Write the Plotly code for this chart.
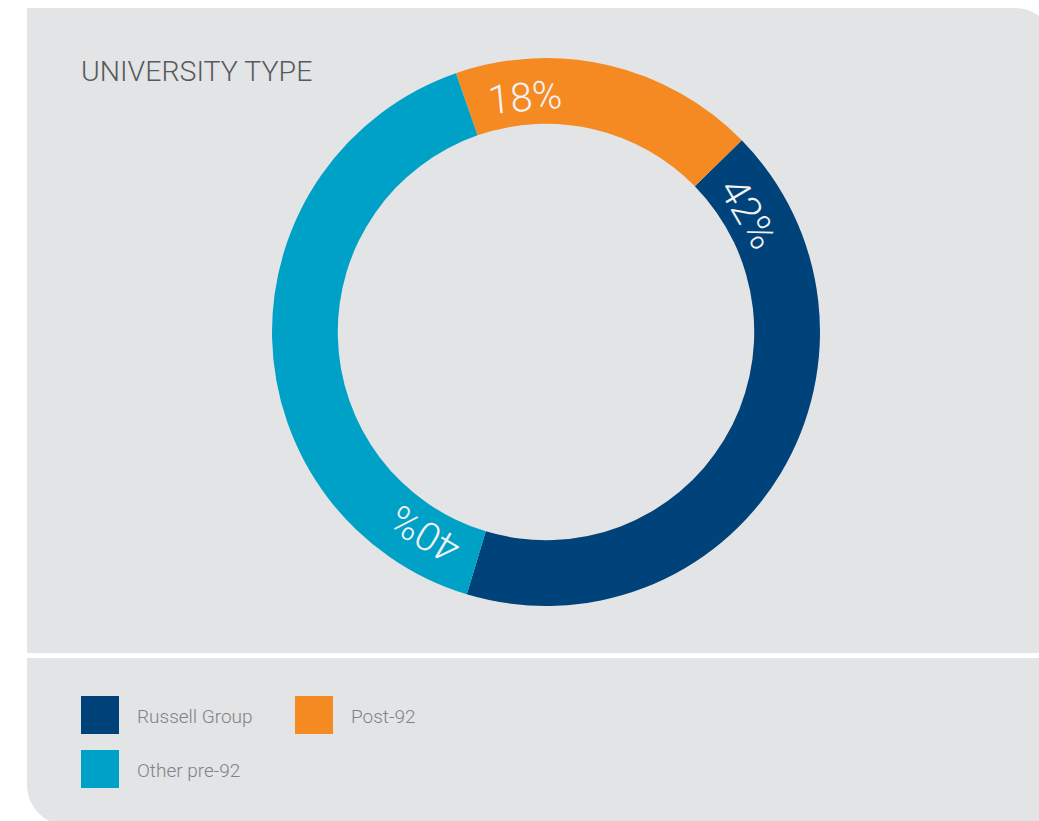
import math
import plotly.graph_objects as go

# ---- data ----
categories = ["Russell Group", "Post-92", "Other pre-92"]
shares = [42, 18, 40]
colors = ["#00427a", "#f58a22", "#00a1c6"]
title_text = "UNIVERSITY TYPE"

# ---- canvas geometry (pixels) ----
W, H = 1039, 821
CX, CY, R_OUT = 546, 332, 274
HOLE = 0.76
START_DEG = -19.2          # clock angle where the ring begins (Post-92 edge)
LABEL_R = 235              # radius for the percentage labels
LABEL_OFFSET = 14          # degrees past each slice's leading edge

BG = "#e3e4e6"


def px(x):
    return x / W


def py(y):
    return 1 - y / H


# ---- panel outline with rounded top-right and bottom-left corners ----
def panel_path(left, top, right, bottom, r):
    k = 0.5523 * r
    pts = [
        f"M {px(left)},{py(top)}",
        f"L {px(right - r)},{py(top)}",
        f"C {px(right - r + k)},{py(top)} {px(right)},{py(top + r - k)} {px(right)},{py(top + r)}",
        f"L {px(right)},{py(bottom)}",
        f"L {px(left + r)},{py(bottom)}",
        f"C {px(left + r - k)},{py(bottom)} {px(left)},{py(bottom - r + k)} {px(left)},{py(bottom - r)}",
        "Z",
    ]
    return " ".join(pts)


shapes = [
    dict(type="path", xref="paper", yref="paper", layer="below",
         path=panel_path(27, 8, 1055, 825, 40),
         fillcolor=BG, line=dict(width=0)),
    # white divider between the chart and the key
    dict(type="rect", xref="paper", yref="paper", layer="below",
         x0=px(27), x1=px(1060), y0=py(658), y1=py(653),
         fillcolor="white", line=dict(width=0)),
]

# ---- donut ----
# Counter-clockwise drawing keeps the data order equal to the key order.
# In that mode the first slice (Russell Group) spans clockwise from `rotation`,
# which is where the Post-92 slice ends.
total = sum(shares)
post_idx = categories.index("Post-92")
rotation = START_DEG + 360 * shares[post_idx] / total

fig = go.Figure(go.Pie(
    labels=categories,
    values=shares,
    marker=dict(colors=colors, line=dict(width=0)),
    hole=HOLE,
    sort=False,
    direction="counterclockwise",
    rotation=rotation,
    textinfo="none",
    hoverinfo="label+percent",
    showlegend=False,
    domain=dict(x=[px(CX - R_OUT), px(CX + R_OUT)],
                y=[py(CY + R_OUT), py(CY - R_OUT)]),
))

annotations = [
    dict(text=title_text, x=px(79), y=py(72), xref="paper", yref="paper",
         xanchor="left", yanchor="middle", showarrow=False,
         font=dict(family="Roboto", size=28.5, color="#58595b", weight=300)),
]

# percentage labels set along the ring, near each slice's leading (clockwise) edge
cw_order = ["Post-92", "Russell Group", "Other pre-92"]
edge = START_DEG
for name in cw_order:
    i = categories.index(name)
    a = edge + LABEL_OFFSET
    rad = math.radians(a)
    lx = CX + LABEL_R * math.sin(rad)
    ly = CY - LABEL_R * math.cos(rad)
    annotations.append(dict(
        text=f"{shares[i]}%", x=px(lx), y=py(ly), xref="paper", yref="paper",
        xanchor="center", yanchor="middle", showarrow=False,
        textangle=((a + 180) % 360) - 180,
        font=dict(family="Roboto", size=40, color="#f2f2f2", weight=300),
    ))
    edge += 360 * shares[i] / total

# ---- key ----
key_pos = {"Russell Group": (81, 696), "Post-92": (295, 696), "Other pre-92": (81, 750)}
SW = 38
for name, (kx, ky) in key_pos.items():
    i = categories.index(name)
    shapes.append(dict(type="rect", xref="paper", yref="paper",
                       x0=px(kx), x1=px(kx + SW), y0=py(ky + SW), y1=py(ky),
                       fillcolor=colors[i], line=dict(width=0)))
    annotations.append(dict(
        text=name, x=px(kx + 54), y=py(ky + SW / 2 + 1), xref="paper", yref="paper",
        xanchor="left", yanchor="middle", showarrow=False,
        font=dict(family="Roboto", size=19, color="#808285", weight=300)))

fig.update_layout(
    width=W, height=H, autosize=False,
    margin=dict(l=0, r=0, t=0, b=0),
    paper_bgcolor="white", plot_bgcolor="white",
    shapes=shapes, annotations=annotations,
    showlegend=False,
)

fig.write_html("out.html")
